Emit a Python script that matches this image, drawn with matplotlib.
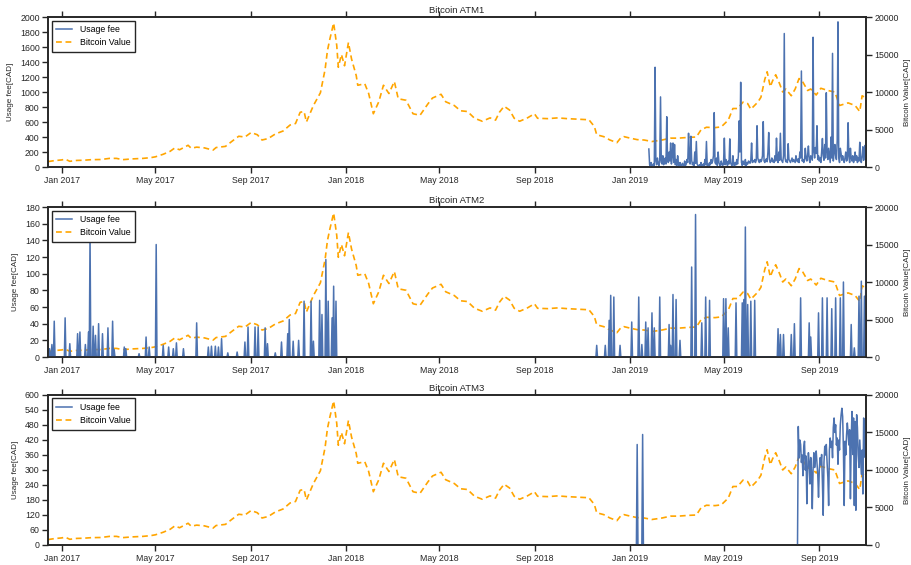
import numpy as np
import pandas as pd
import matplotlib
matplotlib.use("Agg")
import matplotlib.pyplot as plt
import matplotlib.dates as mdates

plt.rcParams['font.family'] = ['Liberation Sans', 'DejaVu Sans']

start = '2016-12-14'
end = '2019-10-31'

# bitcoin value (CAD)
btc_dates = [
    '2016-12-14', '2016-12-22', '2017-01-01', '2017-01-05', '2017-01-11', '2017-01-20',
    '2017-01-28', '2017-02-08', '2017-02-20', '2017-03-03', '2017-03-12', '2017-03-20',
    '2017-04-01', '2017-04-15', '2017-04-25', '2017-05-01', '2017-05-11', '2017-05-20',
    '2017-05-26', '2017-06-01', '2017-06-12', '2017-06-16', '2017-06-23', '2017-07-03',
    '2017-07-14', '2017-07-18', '2017-07-30', '2017-08-07', '2017-08-16', '2017-08-24',
    '2017-09-01', '2017-09-09', '2017-09-15', '2017-09-23', '2017-10-02', '2017-10-12',
    '2017-10-21', '2017-10-28', '2017-11-03', '2017-11-08', '2017-11-11', '2017-11-20',
    '2017-11-29', '2017-12-05', '2017-12-08', '2017-12-11', '2017-12-16', '2017-12-20',
    '2017-12-22', '2017-12-26', '2017-12-30', '2018-01-04', '2018-01-08', '2018-01-14',
    '2018-01-16', '2018-01-25', '2018-01-30', '2018-02-05', '2018-02-12', '2018-02-18',
    '2018-02-25', '2018-03-04', '2018-03-09', '2018-03-19', '2018-03-28', '2018-04-06',
    '2018-04-16', '2018-04-22', '2018-05-03', '2018-05-09', '2018-05-20', '2018-05-28',
    '2018-06-06', '2018-06-15', '2018-06-25', '2018-07-05', '2018-07-12', '2018-07-17',
    '2018-07-23', '2018-07-30', '2018-08-05', '2018-08-12', '2018-08-22', '2018-08-31',
    '2018-09-04', '2018-09-17', '2018-09-30', '2018-10-12', '2018-10-21', '2018-10-29',
    '2018-11-09', '2018-11-16', '2018-11-19', '2018-11-28', '2018-12-06', '2018-12-15',
    '2018-12-20', '2018-12-24', '2019-01-01', '2019-01-10', '2019-01-19', '2019-01-29',
    '2019-02-11', '2019-02-22', '2019-03-04', '2019-03-17', '2019-03-27', '2019-04-02',
    '2019-04-09', '2019-04-20', '2019-04-28', '2019-05-07', '2019-05-13', '2019-05-19',
    '2019-05-26', '2019-06-01', '2019-06-05', '2019-06-14', '2019-06-18', '2019-06-23',
    '2019-06-26', '2019-06-30', '2019-07-03', '2019-07-07', '2019-07-12', '2019-07-16',
    '2019-07-20', '2019-07-27', '2019-08-01', '2019-08-06', '2019-08-11', '2019-08-17',
    '2019-08-21', '2019-08-28', '2019-09-03', '2019-09-12', '2019-09-21', '2019-09-27',
    '2019-10-08', '2019-10-17', '2019-10-23', '2019-10-26', '2019-10-31',
]
btc_values = [
    720, 850, 950, 1050, 760, 880,
    900, 980, 1000, 1150, 1150, 980,
    1080, 1150, 1250, 1360, 1700, 2100,
    2550, 2300, 2900, 2500, 2650, 2550,
    2250, 2600, 2750, 3400, 4100, 4000,
    4600, 4300, 3600, 3800, 4400, 4800,
    5600, 5800, 7300, 7400, 6000, 8200,
    9900, 13000, 15500, 17000, 19200, 16200,
    13300, 15000, 13500, 16600, 14400, 12200,
    10900, 11100, 9800, 7100, 8700, 10900,
    9800, 11400, 9100, 8900, 7100, 6900,
    8400, 9200, 9700, 8700, 8200, 7500,
    7400, 6500, 6100, 6550, 6250, 7300,
    8100, 7600, 6500, 6100, 6550, 7100,
    6500, 6450, 6550, 6450, 6400, 6350,
    6300, 5400, 4300, 4050, 3600, 3250,
    3900, 4050, 3850, 3650, 3600, 3400,
    3600, 3850, 3850, 3950, 4000, 4950,
    5300, 5250, 5350, 6250, 7800, 7800,
    8650, 8450, 7700, 8650, 9300, 11700,
    12700, 10700, 11500, 12300, 11100, 10000,
    10400, 9500, 10400, 11800, 11300, 10200,
    10400, 9600, 10500, 10200, 10000, 8200,
    8550, 8200, 7400, 9500, 9200,
]

# ATM1: daily usage fee from 2019-01-25
atm1_start = '2019-01-25'
atm1_fees = [
    240, 30, 10, 60, 20, 0, 40, 15, 1330, 80,
    30, 120, 50, 20, 90, 935, 60, 40, 150, 30,
    70, 120, 40, 670, 100, 60, 200, 80, 320, 40,
    150, 320, 60, 300, 30, 100, 20, 150, 40, 10,
    60, 20, 0, 50, 30, 10, 80, 20, 40, 100,
    60, 450, 120, 40, 410, 90, 30, 60, 20, 200,
    50, 340, 40, 20, 0, 30, 10, 60, 20, 0,
    40, 10, 100, 30, 340, 20, 40, 10, 60, 30,
    100, 50, 80, 150, 725, 60, 40, 120, 20, 200,
    60, 30, 10, 80, 40, 20, 60, 385, 30, 100,
    50, 20, 80, 40, 375, 60, 30, 20, 150, 40,
    10, 60, 30, 100, 40, 150, 615, 200, 1130, 60,
    20, 80, 40, 30, 100, 10, 60, 40, 80, 70,
    50, 90, 320, 60, 80, 70, 100, 60, 90, 550,
    120, 80, 60, 100, 70, 90, 150, 605, 80, 60,
    90, 110, 70, 200, 460, 100, 60, 80, 120, 70,
    90, 60, 150, 80, 385, 120, 60, 200, 90, 450,
    100, 80, 60, 150, 1780, 120, 70, 90, 60, 310,
    100, 80, 60, 90, 120, 70, 100, 80, 60, 150,
    90, 70, 110, 60, 200, 120, 1280, 80, 100, 60,
    90, 250, 120, 80, 160, 280, 100, 60, 150, 120,
    90, 1730, 200, 120, 260, 180, 550, 100, 150, 80,
    120, 60, 200, 380, 150, 90, 300, 120, 990, 200,
    100, 250, 150, 60, 400, 120, 1515, 80, 200, 300,
    150, 100, 350, 1935, 120, 60, 250, 180, 90, 150,
    100, 60, 120, 200, 80, 100, 590, 150, 60, 250,
    120, 80, 150, 60, 100, 200, 90, 150, 60, 120,
    80, 330, 100, 60, 150, 270, 90, 200, 290, 120,
]

# ATM2: days with a fee (other days in the active periods are 0)
atm2_periods = [('2016-12-14', '2017-12-20'), ('2018-11-17', '2019-10-31')]
atm2_dates = [
    '2016-12-16', '2016-12-19', '2016-12-22', '2017-01-05', '2017-01-11', '2017-01-21',
    '2017-01-24', '2017-01-31', '2017-02-04', '2017-02-06', '2017-02-10', '2017-02-13',
    '2017-02-17', '2017-02-22', '2017-03-01', '2017-03-07', '2017-03-09', '2017-03-22',
    '2017-03-24', '2017-04-10', '2017-04-19', '2017-04-23', '2017-05-02', '2017-05-11',
    '2017-05-18', '2017-05-24', '2017-05-28', '2017-06-06', '2017-06-23', '2017-07-08',
    '2017-07-12', '2017-07-17', '2017-07-21', '2017-07-25', '2017-08-02', '2017-08-14',
    '2017-08-24', '2017-08-28', '2017-09-06', '2017-09-10', '2017-09-19', '2017-09-22',
    '2017-10-02', '2017-10-10', '2017-10-18', '2017-10-20', '2017-10-25', '2017-11-01',
    '2017-11-08', '2017-11-17', '2017-11-20', '2017-11-28', '2017-12-01', '2017-12-06',
    '2017-12-09', '2017-12-14', '2017-12-16', '2017-12-19',
    '2018-11-19', '2018-11-30', '2018-12-05', '2018-12-07', '2018-12-11', '2018-12-19',
    '2019-01-03', '2019-01-12', '2019-01-16', '2019-01-21', '2019-01-24', '2019-01-29',
    '2019-02-01', '2019-02-08', '2019-02-20', '2019-02-22', '2019-02-25', '2019-03-01',
    '2019-03-06', '2019-03-21', '2019-03-26', '2019-04-03', '2019-04-08', '2019-04-13',
    '2019-05-01', '2019-05-04', '2019-05-07', '2019-05-17', '2019-05-25', '2019-05-27',
    '2019-05-29', '2019-06-01', '2019-06-05', '2019-06-10', '2019-07-10', '2019-07-13',
    '2019-07-17', '2019-07-27', '2019-07-31', '2019-08-08', '2019-08-19', '2019-08-21',
    '2019-08-31', '2019-09-05', '2019-09-11', '2019-09-17', '2019-09-22', '2019-09-28',
    '2019-10-02', '2019-10-12', '2019-10-16', '2019-10-22', '2019-10-25', '2019-10-29',
    '2019-10-31',
]
atm2_fees = [
    10, 15, 43, 47, 16, 28,
    30, 15, 30, 148, 37, 26,
    40, 28, 35, 43, 9, 12,
    10, 4, 24, 12, 135, 14,
    12, 10, 17, 10, 41, 12,
    13, 13, 12, 22, 5, 6,
    18, 36, 36, 36, 35, 16,
    5, 18, 28, 45, 19, 20,
    67, 67, 19, 68, 51, 117,
    67, 47, 85, 67,
    14, 14, 44, 74, 72, 14,
    42, 72, 15, 42, 35, 53,
    35, 72, 39, 14, 75, 69,
    20, 108, 171, 41, 72, 68,
    70, 70, 35, 65, 65, 69,
    156, 63, 67, 68, 34, 27,
    27, 27, 40, 71, 41, 24,
    53, 71, 71, 58, 71, 71,
    90, 39, 11, 73, 91, 73,
    130,
]

# ATM3: two stretches of daily fees
atm3_jan_start = '2019-01-09'
atm3_jan_fees = [0, 402, 0, 0, 0, 0, 0, 0, 442, 0]
atm3_aug_start = '2019-08-04'
atm3_aug_fees = [
    0, 474, 348, 420, 402, 330, 360, 277, 390, 415, 300,
    356, 165, 300, 369, 330, 244, 350, 290, 145, 300,
    369, 310, 340, 376, 330, 283, 191, 300, 349, 320,
    362, 250, 119, 330, 395, 360, 402, 330, 270, 158,
    380, 428, 390, 415, 349, 470, 508, 450, 481, 400,
    428, 323, 420, 380, 481, 520, 547, 514, 380, 158,
    415, 360, 440, 488, 448, 400, 461, 185, 420, 534,
    362, 508, 158, 494, 139, 521, 470, 362, 310, 420,
    350, 283, 380, 204, 508, 470, 350, 500,
]

days = pd.date_range(start, end, freq='D')

fee1 = pd.Series(np.nan, index=days)
fee1[pd.date_range(atm1_start, periods=len(atm1_fees))] = atm1_fees

fee2 = pd.Series(np.nan, index=days)
for a, b in atm2_periods:
    fee2[a:b] = 0
fee2[pd.to_datetime(atm2_dates)] = atm2_fees

fee3 = pd.Series(np.nan, index=days)
fee3[pd.date_range(atm3_jan_start, periods=len(atm3_jan_fees))] = atm3_jan_fees
fee3[pd.date_range(atm3_aug_start, periods=len(atm3_aug_fees))] = atm3_aug_fees

btc = pd.Series(btc_values, index=pd.to_datetime(btc_dates))

panels = [
    ('Bitcoin ATM1', fee1, 2000, 200, 0.7044),
    ('Bitcoin ATM2', fee2, 180, 20, 0.3681),
    ('Bitcoin ATM3', fee3, 600, 60, 0.0354),
]

edge = '#262626'
fig = plt.figure(figsize=(9.11, 5.65), dpi=100)

for title, fee, ymax, ystep, bottom in panels:
    ax = fig.add_axes([0.0527, bottom, 0.8979, 0.2655])
    ax2 = ax.twinx()
    ax.set_zorder(ax2.get_zorder() + 1)
    ax.patch.set_visible(False)

    l1, = ax.plot(fee.index, fee.values, color='#4c72b0', lw=1.1, label='Usage fee')
    l2, = ax2.plot(btc.index, btc.values, '--', color='orange', lw=1.2,
                   dashes=(3.5, 2.2), label='Bitcoin Value')

    ax.set_xlim(pd.Timestamp(start), pd.Timestamp(end))
    ax.set_ylim(0, ymax)
    ax.set_yticks(np.arange(0, ymax + 1, ystep))
    ax2.set_ylim(0, 20000)
    ax2.set_yticks(np.arange(0, 20001, 5000))

    ax.xaxis.set_major_locator(mdates.MonthLocator(bymonth=[1, 5, 9]))
    ax.xaxis.set_major_formatter(mdates.DateFormatter('%b %Y'))

    ax.tick_params(axis='x', top=True, direction='out', length=4, width=1,
                   labelsize=6.3, pad=2.5, colors=edge)
    ax.tick_params(axis='y', direction='out', length=4, width=1,
                   labelsize=6.3, pad=2, colors=edge)
    ax2.tick_params(axis='y', direction='out', length=4, width=1,
                    labelsize=6.3, pad=2, colors=edge)
    for a in (ax, ax2):
        for s in a.spines.values():
            s.set_color(edge)
            s.set_linewidth(1.2)

    ax.set_ylabel('Usage fee[CAD]', fontsize=5.8, color=edge, labelpad=4)
    ax2.set_ylabel('Bitcoin Value[CAD]', fontsize=5.8, color=edge, labelpad=4)
    ax.set_title(title, fontsize=6.8, pad=3, color=edge)

    leg = ax.legend([l1, l2], ['Usage fee', 'Bitcoin Value'], loc='upper left',
                    fontsize=6.3, frameon=True, fancybox=False, framealpha=1,
                    edgecolor=edge, handlelength=1.8, handletextpad=1.0,
                    borderaxespad=0.4, borderpad=0.5)
    leg.get_frame().set_linewidth(1.0)

fig.savefig('out.png', dpi=100)
